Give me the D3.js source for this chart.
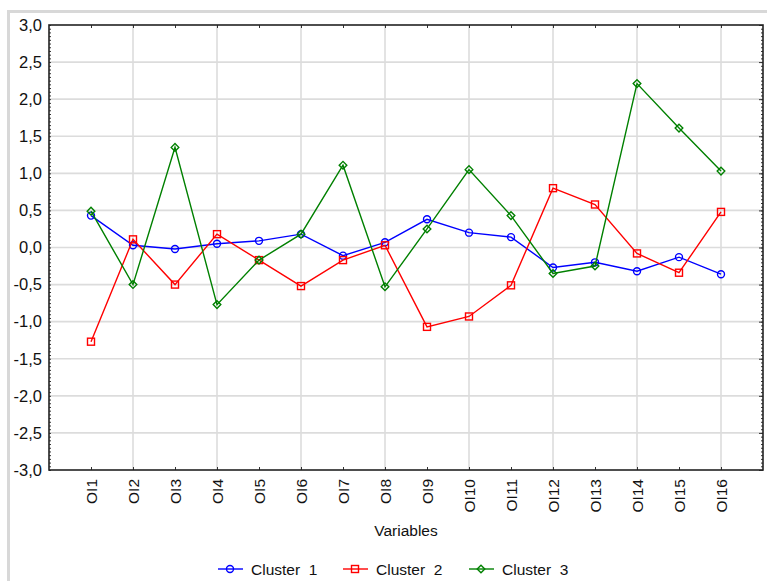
<!DOCTYPE html>
<html>
<head>
<meta charset="utf-8">
<script src="https://cdn.jsdelivr.net/npm/d3@7/dist/d3.min.js"></script>
<style>
  html, body { margin: 0; padding: 0; background: #fff; }
  svg { display: block; font-family: "Liberation Sans", Arial, sans-serif; }
</style>
</head>
<body>
<svg id="chart" width="767" height="581"></svg>
<script>
// Variables on the x axis
const categories = ["OI1","OI2","OI3","OI4","OI5","OI6","OI7","OI8",
                    "OI9","OI10","OI11","OI12","OI13","OI14","OI15","OI16"];

// Cluster means per variable
const cluster1 = [0.43, 0.03, -0.02, 0.05, 0.09, 0.18, -0.11, 0.07,
                  0.38, 0.20, 0.14, -0.27, -0.20, -0.32, -0.13, -0.36];
const cluster2 = [-1.27, 0.11, -0.50, 0.18, -0.17, -0.52, -0.17, 0.03,
                  -1.07, -0.93, -0.51, 0.80, 0.58, -0.08, -0.34, 0.48];
const cluster3 = [0.49, -0.50, 1.35, -0.77, -0.17, 0.18, 1.11, -0.53,
                  0.25, 1.05, 0.43, -0.35, -0.25, 2.21, 1.61, 1.03];

const seriesNames = ["Cluster  1", "Cluster  2", "Cluster  3"];
const yTicks = [-3, -2.5, -2, -1.5, -1, -0.5, 0, 0.5, 1, 1.5, 2, 2.5, 3];

const series = [
  { name: seriesNames[0], values: cluster1, color: "#0000ff", symbol: "circle" },
  { name: seriesNames[1], values: cluster2, color: "#ff0000", symbol: "square" },
  { name: seriesNames[2], values: cluster3, color: "#008000", symbol: "diamond" }
];

const svg = d3.select("#chart");
const fmt = v => d3.format(".1f")(v).replace(".", ",").replace("−", "-");

// Panel frame
svg.append("rect")
  .attr("x", 8.5).attr("y", 11.5).attr("width", 770).attr("height", 580)
  .attr("fill", "none").attr("stroke", "#d8d8d8").attr("stroke-width", 3);

const plot = { left: 49, right: 763, top: 25, bottom: 470 };

// Categories sit at positions 1..16 on a 0..17 range
const x = d3.scaleLinear().domain([0, categories.length + 1]).range([plot.left, plot.right]);
const y = d3.scaleLinear().domain([-3, 3]).range([plot.bottom, plot.top]);

// Gridlines
const grid = svg.append("g");
grid.selectAll("line.h").data(yTicks.slice(1, -1)).join("line")
  .attr("x1", plot.left).attr("x2", plot.right)
  .attr("y1", d => y(d)).attr("y2", d => y(d))
  .attr("stroke", "#dcdcdc").attr("stroke-width", 1.6);
grid.selectAll("line.v").data(categories.filter((c, i) => i % 2 === 1)).join("line")
  .attr("x1", d => x(categories.indexOf(d) + 1)).attr("x2", d => x(categories.indexOf(d) + 1))
  .attr("y1", plot.top).attr("y2", plot.bottom)
  .attr("stroke", "#dcdcdc").attr("stroke-width", 1.6);

// Axes
const minor = d3.range(-3, 3.0001, 0.05);
const catTicks = d3.range(1, categories.length + 1);

const axLeft = d3.axisLeft(y).tickValues(yTicks).tickFormat(fmt).tickSize(0).tickPadding(7);
svg.append("g").attr("transform", `translate(${plot.left},0)`).call(axLeft)
  .call(g => g.select(".domain").remove())
  .call(g => g.selectAll("text").attr("font-size", "16.5px").attr("fill", "#111")
        .attr("font-family", "Liberation Sans, Arial, sans-serif"));

// inner minor ticks, left and right
svg.append("g").attr("transform", `translate(${plot.left},0)`)
  .call(d3.axisRight(y).tickValues(minor).tickSize(2).tickFormat(""))
  .call(g => g.select(".domain").remove())
  .call(g => g.selectAll("line").attr("stroke", "#333"));
svg.append("g").attr("transform", `translate(${plot.right},0)`)
  .call(d3.axisLeft(y).tickValues(minor).tickSize(2).tickFormat(""))
  .call(g => g.select(".domain").remove())
  .call(g => g.selectAll("line").attr("stroke", "#333"));
svg.append("g").attr("transform", `translate(${plot.right},0)`)
  .call(d3.axisLeft(y).tickValues(yTicks).tickSize(4).tickFormat(""))
  .call(g => g.select(".domain").remove())
  .call(g => g.selectAll("line").attr("stroke", "#333"));

// category ticks on top and bottom (inward)
svg.append("g").attr("transform", `translate(0,${plot.bottom})`)
  .call(d3.axisTop(x).tickValues(catTicks).tickSize(3).tickFormat(""))
  .call(g => g.select(".domain").remove())
  .call(g => g.selectAll("line").attr("stroke", "#333"));
svg.append("g").attr("transform", `translate(0,${plot.top})`)
  .call(d3.axisBottom(x).tickValues(catTicks).tickSize(3).tickFormat(""))
  .call(g => g.select(".domain").remove())
  .call(g => g.selectAll("line").attr("stroke", "#333"));

// x labels, rotated
svg.append("g").selectAll("text").data(categories).join("text")
  .attr("transform", (d, i) => `translate(${x(i + 1) + 5.5},${479}) rotate(-90)`)
  .attr("text-anchor", "end")
  .attr("font-size", "15.5px").attr("fill", "#111")
  .text(d => d);

// Frame of the plot area
svg.append("rect")
  .attr("x", plot.left).attr("y", plot.top)
  .attr("width", plot.right - plot.left).attr("height", plot.bottom - plot.top)
  .attr("fill", "none").attr("stroke", "#222").attr("stroke-width", 1.6);

// Axis title
svg.append("text").attr("x", 406).attr("y", 536).attr("text-anchor", "middle")
  .attr("font-size", "15.5px").attr("fill", "#111").text("Variables");

// Markers
function drawMarker(g, symbol, cx, cy, color) {
  if (symbol === "circle") {
    g.append("circle").attr("cx", cx).attr("cy", cy).attr("r", 3.5)
      .attr("fill", "none").attr("stroke", color).attr("stroke-width", 1.4);
  } else if (symbol === "square") {
    g.append("rect").attr("x", cx - 3.5).attr("y", cy - 3.5).attr("width", 7).attr("height", 7)
      .attr("fill", "none").attr("stroke", color).attr("stroke-width", 1.4);
  } else {
    const s = 3.8;
    g.append("path").attr("d", `M${cx},${cy - s}L${cx + s},${cy}L${cx},${cy + s}L${cx - s},${cy}Z`)
      .attr("fill", "none").attr("stroke", color).attr("stroke-width", 1.4);
  }
}

const line = d3.line().x((d, i) => x(i + 1)).y(d => y(d));
series.forEach(s => {
  const g = svg.append("g");
  g.append("path").datum(s.values).attr("d", line)
    .attr("fill", "none").attr("stroke", s.color).attr("stroke-width", 1.4);
  s.values.forEach((v, i) => drawMarker(g, s.symbol, x(i + 1), y(v), s.color));
});

// Legend
const legendX = [218, 343, 469];
series.forEach((s, k) => {
  const g = svg.append("g");
  const lx = legendX[k], ly = 569;
  g.append("line").attr("x1", lx).attr("x2", lx + 25).attr("y1", ly).attr("y2", ly)
    .attr("stroke", s.color).attr("stroke-width", 1.4);
  drawMarker(g, s.symbol, lx + 12, ly, s.color);
  g.append("text").attr("x", lx + 33).attr("y", ly + 5.5)
    .attr("font-size", "15.5px").attr("fill", "#111")
    .style("white-space", "pre").text(s.name);
});
</script>
</body>
</html>
